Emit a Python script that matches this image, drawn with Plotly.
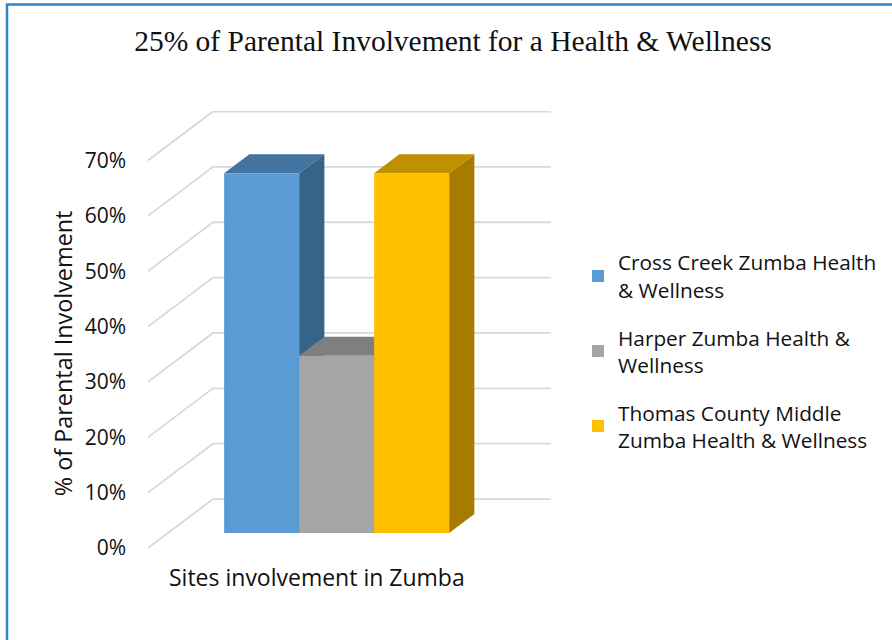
import plotly.graph_objects as go

# ---- data ----
series_names = ["Cross Creek Zumba Health<br>& Wellness",
                "Harper Zumba Health &<br>Wellness",
                "Thomas County Middle<br>Zumba Health & Wellness"]
series_values = [65, 32, 65]
tick_values = [0, 10, 20, 30, 40, 50, 60, 70]
tick_labels = ["0%", "10%", "20%", "30%", "40%", "50%", "60%", "70%"]
title_text = "25% of Parental Involvement for a Health & Wellness"
x_title = "Sites involvement in Zumba"
y_title = "% of Parental Involvement"

front_colors = ["#5B9BD5", "#A5A5A5", "#FFC000"]
top_colors = ["#44739F", "#7F7F7F", "#BF9000"]
side_colors = ["#376387", "#6B6B6B", "#A67C00"]

# ---- layout geometry ----
W, H = 892, 640
L, R, T, B = 148, 551, 110.5, 548
PX_X = 75.0          # pixels per bar width
PX_Y = (548 - 160) / 70.0  # pixels per percentage point
WALL_DX = 65 / PX_X  # depth of the chart in axis units
WALL_DY = 49 / PX_Y
D0, D1 = 0.306, 0.694  # front/back of the bars along the depth
GAP = 0.75           # half the gap width, in bars
xmax = (R - L) / PX_X
ymax = (B - T) / PX_Y


def proj(x, v, d):
    return x + d * WALL_DX, v + d * WALL_DY


def px(x):
    return (x - L) / (R - L)


def py(y):
    return (B - y) / (B - T)


fig = go.Figure()

# gridlines: left wall and back wall
for v in tick_values:
    p0 = proj(0, v, 0)
    p1 = proj(0, v, 1)
    p2 = proj(xmax - WALL_DX, v, 1)
    fig.add_trace(go.Scatter(x=[p0[0], p1[0], p2[0]], y=[p0[1], p1[1], p2[1]], mode="lines",
                             line=dict(color="#D9D9D9", width=1.8), showlegend=False, hoverinfo="skip"))

# side and top faces
for i, v in enumerate(series_values):
    xl = GAP + i
    xr = xl + 1
    side = [proj(xr, 0, D0), proj(xr, v, D0), proj(xr, v, D1), proj(xr, 0, D1), proj(xr, 0, D0)]
    top = [proj(xl, v, D0), proj(xr, v, D0), proj(xr, v, D1), proj(xl, v, D1), proj(xl, v, D0)]
    for poly, col in ((side, side_colors[i]), (top, top_colors[i])):
        fig.add_trace(go.Scatter(x=[p[0] for p in poly], y=[p[1] for p in poly], mode="lines",
                                 fill="toself", fillcolor=col, line=dict(width=0, color=col),
                                 showlegend=False, hoverinfo="skip"))

# front faces, on an overlay so that they cover the faces behind them
for i, v in enumerate(series_values):
    bx, by = proj(GAP + i + 0.5, 0, D0)
    fig.add_trace(go.Bar(x=[bx], y=[v], base=[by], width=[1], name=series_names[i],
                         marker=dict(color=front_colors[i], line=dict(width=0)),
                         xaxis="x2", yaxis="y2", legendgroup=str(i)))

FONT = "Open Sans"
fig.update_layout(
    width=W, height=H, autosize=False,
    margin=dict(l=L, r=W - R, t=T, b=H - B, pad=0, autoexpand=False),
    paper_bgcolor="white", plot_bgcolor="rgba(0,0,0,0)",
    barmode="overlay",
    font=dict(family=FONT, color="#111111"),
    title=dict(text=title_text, x=453 / W, xanchor="center", y=1 - 41 / H, yanchor="middle",
               font=dict(family="Liberation Serif", size=29.5, color="#111111")),
    xaxis=dict(range=[0, xmax], showgrid=False, zeroline=False, showticklabels=False, showline=False, ticks=""),
    yaxis=dict(range=[0, ymax], showgrid=False, zeroline=False, showline=False, ticks="",
               tickvals=tick_values, ticktext=tick_labels, ticklabelstandoff=21,
               tickfont=dict(family=FONT, size=21, color="#111111")),
    xaxis2=dict(range=[0, xmax], overlaying="x", visible=False),
    yaxis2=dict(range=[0, ymax], overlaying="y", visible=False),
    legend=dict(x=px(578), xanchor="left", y=py(242), yanchor="top",
                font=dict(family=FONT, size=20.8, color="#111111"),
                tracegroupgap=18, bgcolor="rgba(0,0,0,0)", traceorder="grouped"),
    annotations=[
        dict(text=x_title, xref="paper", yref="paper", x=px(317), y=py(577), xanchor="center", yanchor="middle",
             showarrow=False, font=dict(family=FONT, size=23, color="#111111")),
        dict(text=y_title, xref="paper", yref="paper", x=px(63), y=py(353), xanchor="center", yanchor="middle",
             textangle=-90, showarrow=False, font=dict(family=FONT, size=23.4, color="#111111")),
    ],
    shapes=[dict(type="path", xref="paper", yref="paper",
                 path=f"M {px(7)} {py(645)} L {px(7)} {py(4)} L {px(897)} {py(4)}",
                 line=dict(color="#2E86C8", width=2.5))],
)

fig.write_html("out.html", config={"displayModeBar": False},
               post_script="document.body.style.margin='0';document.body.style.overflow='hidden';")
